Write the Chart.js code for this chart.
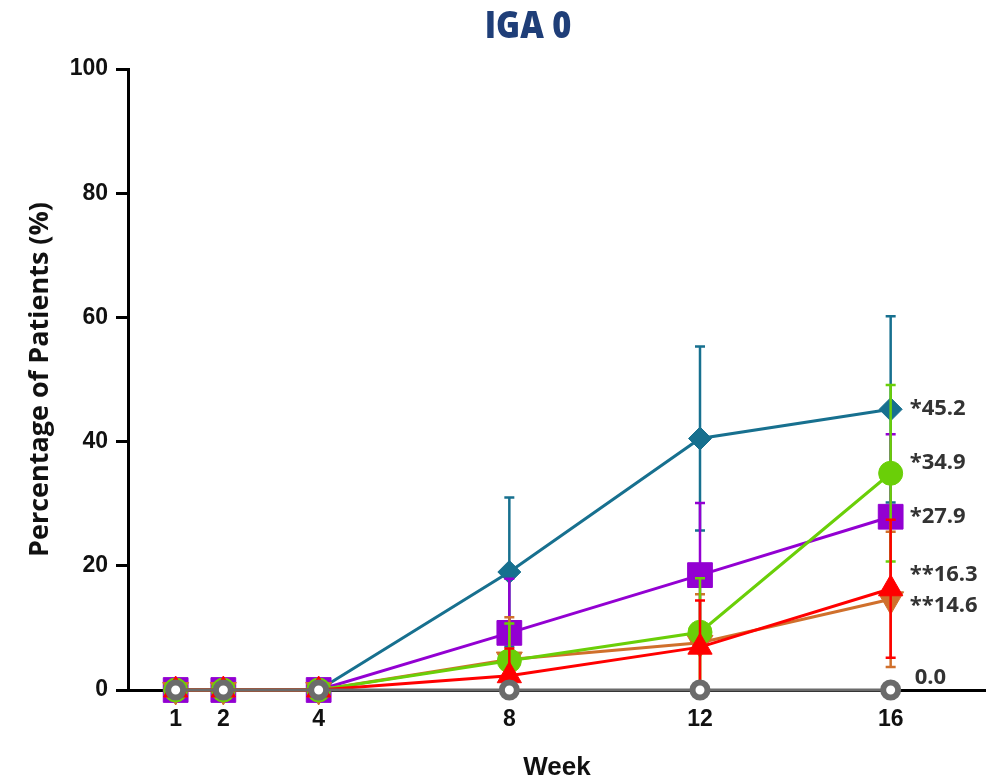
<!DOCTYPE html>
<html>
<head>
<meta charset="utf-8">
<title>IGA 0</title>
<script src="https://cdn.jsdelivr.net/npm/chart.js@4.4.1/dist/chart.umd.min.js"></script>
<style>
  html, body { margin: 0; padding: 0; background: #ffffff; }
  canvas { display: block; }
</style>
</head>
<body>
<canvas id="chart" width="986" height="781"></canvas>
<script>
// Visit weeks and axis ticks
const weeks = [1, 2, 4, 8, 12, 16];
const xTickValues = [1, 2, 4, 8, 12, 16];
const yTickValues = [0, 20, 40, 60, 80, 100];

// Percentage of patients reaching IGA 0, per arm, with error half-widths
const tealValues   = [0, 0, 0, 19.0, 40.5, 45.2];
const tealErrors   = [0, 0, 0, 12.0, 14.8, 15.0];
const purpleValues = [0, 0, 0, 9.2, 18.5, 27.9];
const purpleErrors = [0, 0, 0, 8.7, 11.6, 13.3];
const orangeValues = [0, 0, 0, 4.9, 7.6, 14.6];
const orangeErrors = [0, 0, 0, 6.8, 7.8, 10.9];
const greenValues  = [0, 0, 0, 4.7, 9.3, 34.9];
const greenErrors  = [0, 0, 0, 6.0, 8.7, 14.2];
const redValues    = [0, 0, 0, 2.3, 6.9, 16.3];
const redErrors    = [0, 0, 0, 4.4, 7.5, 11.1];
const greyValues   = [0, 0, 0, 0, 0, 0];
const greyErrors   = [0, 0, 0, 0, 0, 0];

// Significance markers printed before the week-16 value
const tealMark = '*';
const purpleMark = '*';
const orangeMark = '**';
const greenMark = '*';
const redMark = '**';
const greyMark = '';

const xy = (vals) => vals.map((v, i) => ({ x: weeks[i], y: v }));

function series(label, color, values, errors, mark, style, order) {
  return Object.assign({
    label,
    data: xy(values),
    errors,
    mark,
    borderColor: color,
    backgroundColor: color,
    borderWidth: 3,
    pointBorderColor: color,
    pointBackgroundColor: color,
    pointBorderWidth: 1,
    tension: 0,
    clip: false,
    order
  }, style);
}

// Listed bottom-most first; a higher order is painted earlier
const datasets = [
  series('Arm 1', '#17708f', tealValues, tealErrors, tealMark,
    { pointStyle: 'rectRot', pointRadius: 11.5 }, 5),
  series('Arm 2', '#9300d2', purpleValues, purpleErrors, purpleMark,
    { pointStyle: 'rect', pointRadius: 17.5 }, 4),
  series('Arm 4', '#d0702c', orangeValues, orangeErrors, orangeMark,
    { pointStyle: 'triangle', pointRadius: 15, pointRotation: 180 }, 3),
  series('Arm 3', '#6acf08', greenValues, greenErrors, greenMark,
    { pointStyle: 'circle', pointRadius: 12 }, 2),
  series('Arm 5', '#ff0000', redValues, redErrors, redMark,
    { pointStyle: 'triangle', pointRadius: 14 }, 1),
  series('Placebo', '#6b6b6b', greyValues, greyErrors, greyMark,
    { pointStyle: 'circle', pointRadius: 7.5, pointBorderWidth: 6, pointBackgroundColor: '#ffffff' }, 0)
];

// Vertical error bars with caps, drawn just beneath each series' line and markers
const errorBars = {
  id: 'errorBars',
  beforeDatasetDraw(chart, args, opts) {
    const ds = chart.data.datasets[args.index];
    if (!ds.errors) return;
    const { ctx, scales: { x, y } } = chart;
    ctx.save();
    ctx.strokeStyle = ds.borderColor;
    ctx.lineWidth = opts.lineWidth;
    ctx.lineCap = 'butt';
    ds.data.forEach((p, i) => {
      const e = ds.errors[i];
      if (!e) return;
      const px = x.getPixelForValue(p.x);
      const top = y.getPixelForValue(p.y + e);
      const bottom = y.getPixelForValue(Math.max(p.y - e, 0));
      ctx.beginPath();
      ctx.moveTo(px, top);
      ctx.lineTo(px, bottom);
      ctx.moveTo(px - opts.capHalf, top);
      ctx.lineTo(px + opts.capHalf, top);
      if (p.y - e > 0) {
        ctx.moveTo(px - opts.capHalf, bottom);
        ctx.lineTo(px + opts.capHalf, bottom);
      }
      ctx.stroke();
    });
    ctx.restore();
  }
};

// Week-16 value labels to the right of the last point
const endLabels = {
  id: 'endLabels',
  afterDatasetsDraw(chart, args, opts) {
    const { ctx, scales: { x, y } } = chart;
    ctx.save();
    ctx.font = opts.font;
    ctx.fillStyle = opts.color;
    ctx.textAlign = 'left';
    ctx.textBaseline = 'middle';
    chart.data.datasets.forEach((ds, i) => {
      const last = ds.data[ds.data.length - 1];
      const text = ds.mark + last.y.toFixed(1);
      const off = opts.offsets[i];
      const px = x.getPixelForValue(last.x) + off[0];
      const py = y.getPixelForValue(last.y) + off[1];
      ctx.fillText(text, px, py);
    });
    ctx.restore();
  }
};

// Heading above the plot
const heading = {
  id: 'heading',
  afterDraw(chart, args, opts) {
    const { ctx } = chart;
    ctx.save();
    ctx.font = opts.font;
    ctx.fillStyle = opts.color;
    ctx.textAlign = 'center';
    ctx.textBaseline = 'middle';
    ctx.translate(opts.x, opts.y);
    ctx.scale(opts.squeeze, 1);
    ctx.fillText(opts.text, 0, 0);
    ctx.restore();
  }
};

const tickFont = { family: '"Liberation Sans", Arial, sans-serif', weight: 'bold', size: 23 };

new Chart(document.getElementById('chart'), {
  type: 'line',
  data: { datasets },
  plugins: [errorBars, endLabels, heading],
  options: {
    responsive: false,
    animation: false,
    events: [],
    layout: { autoPadding: false, padding: { top: 69, left: 0, right: 0, bottom: 0 } },
    plugins: {
      legend: { display: false },
      tooltip: { enabled: false },
      title: { display: false },
      errorBars: { lineWidth: 2.5, capHalf: 5 },
      endLabels: {
        font: 'bold 22px "Open Sans", sans-serif',
        color: '#333333',
        // [dx, dy] in pixels, per series, in dataset order
        offsets: [[19, -1], [19, 0], [19, 6], [19, -11], [19, -14], [24, -12]]
      },
      heading: {
        text: 'IGA 0',
        font: '800 37px "Open Sans", sans-serif',
        color: '#1f3e78',
        x: 528, y: 27, squeeze: 0.88
      }
    },
    scales: {
      x: {
        type: 'linear',
        min: 0,
        max: 18,
        afterBuildTicks: (s) => { s.ticks = xTickValues.map(v => ({ value: v })); },
        afterFit: (s) => { s.height = 91; s.paddingLeft = 0; s.paddingRight = 0; },
        grid: { display: true, drawOnChartArea: false, drawTicks: true, tickLength: 7, lineWidth: 3, color: '#111111' },
        border: { display: true, color: '#000000', width: 3 },
        ticks: { color: '#111111', font: tickFont, padding: 9, maxRotation: 0, autoSkip: false },
        title: {
          display: true, text: 'Week', color: '#111111',
          font: { family: '"Liberation Sans", Arial, sans-serif', weight: 'bold', size: 26, lineHeight: 1 },
          padding: { top: 0, bottom: 0 }
        }
      },
      y: {
        type: 'linear',
        min: 0,
        max: 100,
        afterBuildTicks: (s) => { s.ticks = yTickValues.map(v => ({ value: v })); },
        afterFit: (s) => { s.width = 128; },
        grid: { display: true, drawOnChartArea: false, drawTicks: true, tickLength: 12, lineWidth: 3, color: '#000000' },
        border: { display: true, color: '#000000', width: 3 },
        ticks: { color: '#111111', font: tickFont, padding: 8 },
        title: {
          display: true, text: 'Percentage of Patients (%)', color: '#111111',
          font: { family: '"Open Sans", sans-serif', weight: 'bold', size: 27, lineHeight: 1 },
          padding: { top: 27, bottom: 0 }
        }
      }
    }
  }
});
</script>
</body>
</html>
